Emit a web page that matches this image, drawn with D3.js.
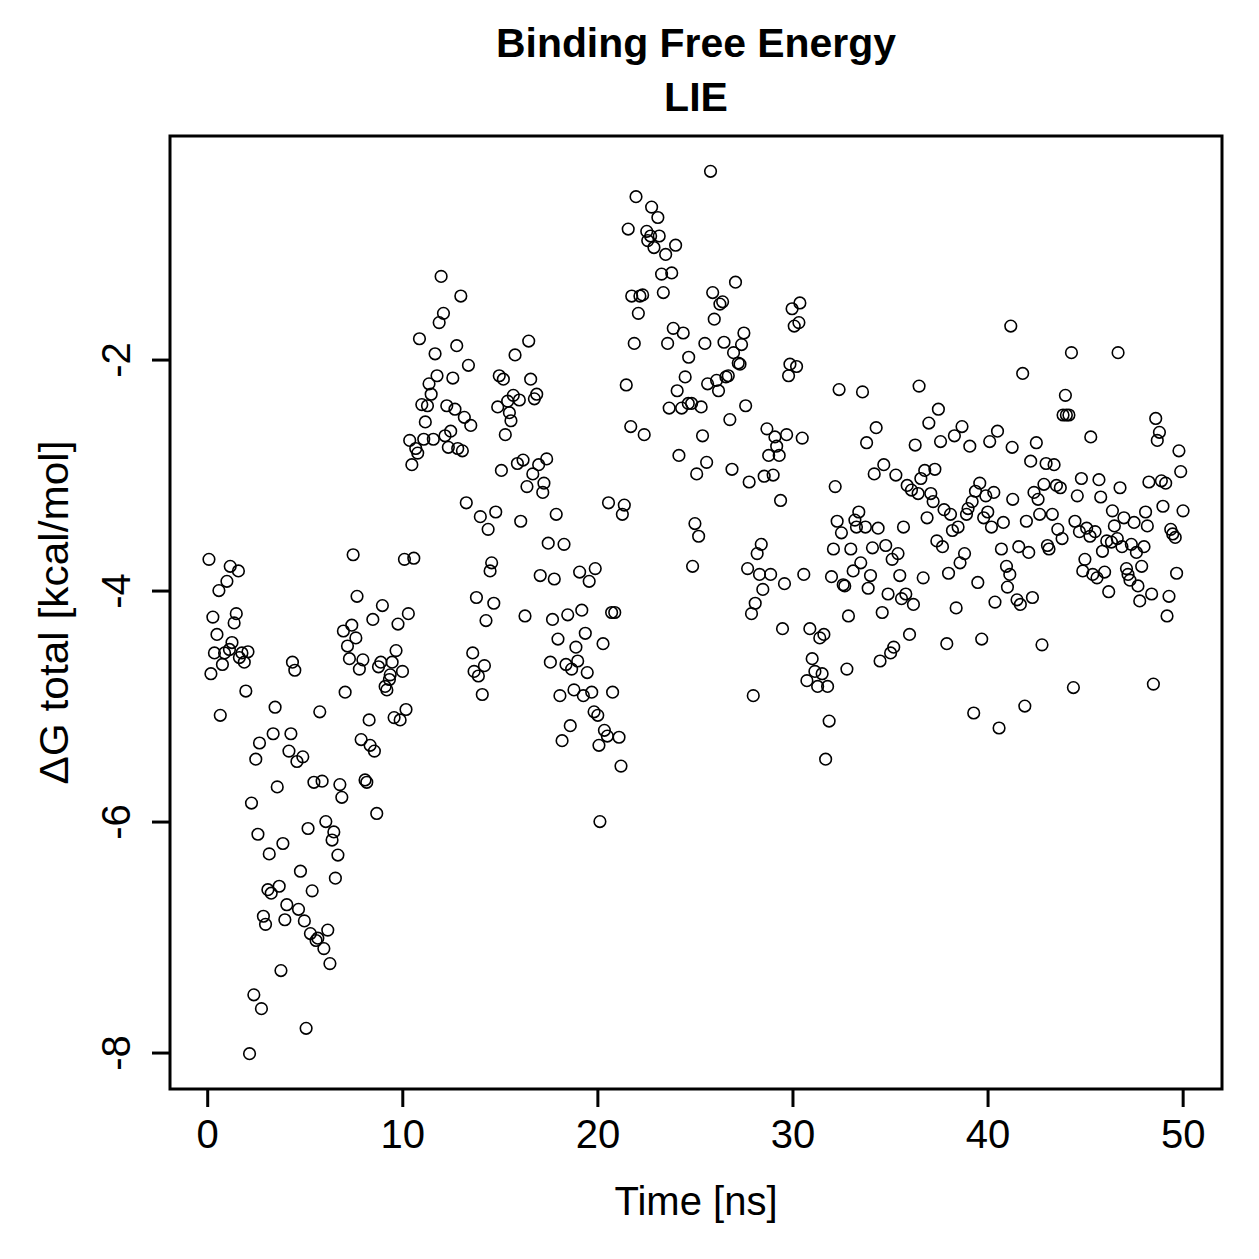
<!DOCTYPE html>
<html>
<head>
<meta charset="utf-8">
<script src="https://cdn.jsdelivr.net/npm/d3@7"></script>
<style>
  body { margin: 0; background: #fff; }
  text { font-family: "Liberation Sans", Arial, Helvetica, sans-serif; fill: #000; }
</style>
</head>
<body>
<div id="chart"></div>
<script>
// LIE binding free energy over the trajectory
var timeNs = [
  0.09, 0.19, 0.29, 0.37, 0.50, 0.60, 0.67, 0.78, 0.89, 1.01, 1.14, 1.18, 1.27, 1.38, 1.49, 1.60, 1.65, 1.78, 1.90, 1.98,
  2.09, 2.17, 2.27, 2.39, 2.49, 2.60, 2.68, 2.78, 2.88, 2.99, 3.11, 3.18, 3.28, 3.38, 3.48, 3.59, 3.69, 3.78, 3.88, 3.98,
  4.08, 4.19, 4.29, 4.37, 4.49, 4.60, 4.68, 4.78, 4.90, 4.98, 5.07, 5.17, 5.29, 5.38, 5.47, 5.58, 5.67, 5.77, 5.89, 5.98,
  6.08, 6.18, 6.29, 6.40, 6.49, 6.57, 6.70, 6.80, 6.90, 6.98, 7.07, 7.19, 7.29, 7.41, 7.48, 7.62, 7.68, 7.80, 7.89, 7.98,
  8.09, 8.18, 8.30, 8.35, 8.49, 8.57, 8.69, 8.78, 8.90, 8.98, 9.12, 9.21, 9.34, 9.38, 9.48, 9.58, 9.68, 9.78, 9.89, 10.01,
  10.11, 10.19, 10.31, 10.38, 10.49, 10.59, 10.69, 10.79, 10.88, 11.00, 11.10, 11.18, 11.29, 11.37, 11.48, 11.59, 11.68, 11.78, 11.89, 11.99,
  12.11, 12.19, 12.28, 12.36, 12.48, 12.59, 12.70, 12.79, 12.84, 13.00, 13.08, 13.18, 13.28, 13.39, 13.51, 13.61, 13.68, 13.80, 13.90, 14.00,
  14.10, 14.21, 14.29, 14.40, 14.50, 14.58, 14.69, 14.79, 14.89, 14.97, 15.08, 15.18, 15.28, 15.40, 15.49, 15.57, 15.69, 15.78, 15.90, 16.00,
  16.07, 16.19, 16.29, 16.39, 16.48, 16.58, 16.69, 16.77, 16.89, 16.99, 17.07, 17.20, 17.26, 17.40, 17.48, 17.59, 17.70, 17.79, 17.89, 17.98,
  18.08, 18.19, 18.29, 18.39, 18.48, 18.61, 18.68, 18.80, 18.90, 18.99, 19.09, 19.20, 19.28, 19.38, 19.48, 19.58, 19.71, 19.83, 19.89, 20.02,
  20.08, 20.13, 20.29, 20.36, 20.51, 20.57, 20.73, 20.78, 20.89, 21.11, 21.21, 21.28, 21.38, 21.48, 21.58, 21.71, 21.76, 21.89, 21.98, 22.10,
  22.18, 22.32, 22.40, 22.53, 22.58, 22.73, 22.78, 22.90, 23.10, 23.17, 23.29, 23.38, 23.50, 23.60, 23.68, 23.81, 23.89, 24.01, 24.09, 24.18,
  24.32, 24.40, 24.50, 24.66, 24.68, 24.83, 24.88, 25.00, 25.09, 25.19, 25.32, 25.39, 25.51, 25.60, 25.65, 25.80, 25.91, 25.99, 26.11, 26.21,
  26.28, 26.42, 26.49, 26.59, 26.71, 26.79, 26.90, 26.98, 27.08, 27.22, 27.31, 27.39, 27.51, 27.60, 27.70, 27.78, 27.90, 27.99, 28.09, 28.19,
  28.31, 28.40, 28.48, 28.55, 28.69, 28.78, 28.88, 29.01, 29.10, 29.19, 29.32, 29.39, 29.49, 29.59, 29.70, 29.80, 29.87, 29.98, 30.09, 30.21,
  30.33, 30.38, 30.50, 30.58, 30.74, 30.89, 31.01, 31.15, 31.29, 31.40, 31.52, 31.61, 31.70, 31.80, 31.88, 32.00, 32.10, 32.19, 32.29, 32.39,
  32.51, 32.60, 32.68, 32.79, 32.87, 32.99, 33.11, 33.20, 33.28, 33.40, 33.50, 33.59, 33.74, 33.80, 33.88, 34.00, 34.10, 34.19, 34.29, 34.39,
  34.49, 34.60, 34.68, 34.78, 34.90, 35.03, 35.11, 35.19, 35.30, 35.41, 35.50, 35.59, 35.69, 35.81, 35.88, 36.00, 36.10, 36.20, 36.29, 36.44,
  36.49, 36.58, 36.70, 36.78, 36.90, 36.99, 37.09, 37.21, 37.30, 37.40, 37.48, 37.59, 37.69, 37.77, 37.91, 38.00, 38.10, 38.20, 38.30, 38.39,
  38.49, 38.59, 38.69, 38.82, 38.92, 39.00, 39.09, 39.21, 39.29, 39.38, 39.50, 39.60, 39.70, 39.80, 39.91, 40.01, 40.11, 40.20, 40.32, 40.38,
  40.51, 40.59, 40.71, 40.81, 40.97, 41.02, 41.14, 41.19, 41.26, 41.29, 41.51, 41.60, 41.68, 41.80, 41.91, 41.99, 42.11, 42.21, 42.30, 42.38,
  42.50, 42.59, 42.67, 42.79, 42.89, 43.00, 43.07, 43.15, 43.32, 43.41, 43.53, 43.60, 43.73, 43.82, 43.87, 43.99, 44.04, 44.17, 44.30, 44.40,
  44.48, 44.60, 44.71, 44.81, 44.88, 44.99, 45.08, 45.25, 45.29, 45.39, 45.51, 45.61, 45.71, 45.80, 45.89, 46.00, 46.11, 46.21, 46.35, 46.40,
  46.50, 46.65, 46.69, 46.79, 46.89, 46.99, 47.12, 47.20, 47.30, 47.37, 47.51, 47.63, 47.71, 47.80, 47.90, 48.02, 48.10, 48.19, 48.27, 48.41,
  48.50, 48.62, 48.70, 48.81, 48.91, 48.99, 49.13, 49.20, 49.30, 49.39, 49.49, 49.62, 49.69, 49.81, 49.90, 50.02
];
var dGtotal = [
  -3.73, -4.72, -4.23, -4.54, -4.38, -4.00, -5.08, -4.64, -4.54, -3.92, -4.51, -3.79, -4.45, -4.28, -4.20, -3.83, -4.58, -4.54, -4.62, -4.87,
  -4.53, -8.01, -5.84, -7.50, -5.46, -6.11, -5.32, -7.62, -6.82, -6.89, -6.59, -6.28, -6.62, -5.24, -5.01, -5.70, -6.56, -7.29, -6.19, -6.85,
  -6.72, -5.39, -5.24, -4.62, -4.69, -5.48, -6.76, -6.43, -5.44, -6.86, -7.79, -6.06, -6.97, -6.60, -5.66, -7.03, -7.01, -5.05, -5.65, -7.10,
  -6.00, -6.94, -7.23, -6.16, -6.09, -6.49, -6.29, -5.68, -5.79, -4.35, -4.88, -4.48, -4.59, -4.30, -3.69, -4.41, -4.05, -4.68, -5.29, -4.60,
  -5.64, -5.66, -5.12, -5.34, -4.25, -5.39, -5.93, -4.66, -4.62, -4.13, -4.83, -4.86, -4.77, -4.73, -4.62, -5.10, -4.52, -4.29, -5.12, -4.70,
  -3.73, -5.03, -4.20, -2.70, -2.91, -3.72, -2.77, -2.81, -1.82, -2.39, -2.69, -2.54, -2.40, -2.21, -2.30, -2.69, -1.95, -2.14, -1.68, -1.28,
  -1.60, -2.66, -2.40, -2.76, -2.62, -2.16, -2.43, -1.88, -2.77, -1.45, -2.79, -2.50, -3.24, -2.05, -2.57, -4.54, -4.70, -4.06, -4.74, -3.36,
  -4.90, -4.65, -4.26, -3.47, -3.83, -3.76, -4.11, -3.32, -2.41, -2.14, -2.96, -2.17, -2.65, -2.36, -2.46, -2.53, -2.31, -1.96, -2.90, -2.35,
  -3.40, -2.87, -4.22, -3.10, -1.84, -2.17, -2.99, -2.34, -2.30, -2.91, -3.87, -3.15, -3.07, -2.86, -3.59, -4.62, -4.25, -3.90, -3.34, -4.42,
  -4.91, -5.30, -3.60, -4.64, -4.21, -5.17, -4.68, -4.86, -4.49, -4.61, -3.84, -4.17, -4.91, -4.37, -4.71, -3.92, -4.88, -5.05, -3.81, -5.08,
  -5.34, -6.00, -4.46, -5.21, -5.26, -3.24, -4.19, -4.88, -4.19, -5.27, -5.52, -3.34, -3.26, -2.22, -0.87, -2.58, -1.45, -1.86, -0.59, -1.60,
  -1.45, -1.44, -2.65, -0.89, -0.97, -0.93, -0.68, -1.03, -0.77, -0.93, -1.26, -1.42, -1.09, -1.86, -2.42, -1.25, -1.73, -1.01, -2.27, -2.83,
  -2.42, -1.77, -2.15, -2.38, -1.98, -2.38, -3.79, -3.42, -2.99, -3.53, -2.41, -2.66, -1.86, -2.89, -2.21, -0.37, -1.42, -1.65, -2.18, -2.27,
  -1.52, -1.50, -1.85, -2.15, -2.14, -2.52, -2.95, -1.94, -1.33, -2.03, -2.04, -1.87, -1.77, -2.40, -3.81, -3.06, -4.20, -4.91, -4.11, -3.68,
  -3.86, -3.60, -3.99, -3.01, -2.60, -2.83, -3.86, -3.00, -2.67, -2.75, -2.83, -3.22, -4.33, -3.94, -2.65, -2.14, -2.04, -1.56, -1.71, -2.06,
  -1.68, -1.51, -2.68, -3.86, -4.78, -4.33, -4.59, -4.70, -4.83, -4.41, -4.72, -4.38, -5.46, -4.83, -5.13, -3.88, -3.64, -3.10, -3.40, -2.26,
  -3.50, -3.95, -3.96, -4.68, -4.22, -3.64, -3.83, -3.39, -3.45, -3.32, -3.76, -2.28, -3.45, -2.72, -3.98, -3.87, -3.63, -2.99, -2.59, -3.46,
  -4.61, -4.19, -2.91, -3.61, -4.03, -4.54, -3.73, -4.49, -3.00, -3.68, -3.87, -4.07, -3.45, -4.03, -3.09, -4.38, -3.13, -4.12, -2.74, -3.16,
  -2.23, -3.03, -3.89, -2.96, -3.37, -2.55, -3.16, -3.23, -2.95, -3.57, -2.43, -2.71, -3.62, -3.30, -4.46, -3.85, -3.34, -3.48, -2.66, -4.15,
  -3.45, -3.76, -2.58, -3.68, -3.34, -3.29, -2.75, -3.23, -5.06, -3.14, -3.93, -3.07, -4.42, -3.37, -3.18, -3.32, -2.71, -3.45, -3.15, -4.10,
  -2.62, -5.19, -3.64, -3.41, -3.79, -3.97, -3.86, -1.71, -2.76, -3.21, -4.08, -3.62, -4.12, -2.12, -5.00, -3.40, -3.67, -2.88, -4.06, -3.15,
  -2.72, -3.21, -3.34, -4.47, -3.08, -2.90, -3.61, -3.64, -3.34, -2.91, -3.09, -3.47, -3.11, -3.55, -2.48, -2.31, -2.48, -2.48, -1.94, -4.84,
  -3.40, -3.18, -3.49, -3.03, -3.83, -3.73, -3.46, -3.53, -2.67, -3.86, -3.49, -3.89, -3.04, -3.19, -3.66, -3.84, -3.57, -4.01, -3.58, -3.31,
  -3.44, -3.55, -1.94, -3.11, -3.62, -3.37, -3.81, -3.86, -3.91, -3.60, -3.41, -3.67, -3.96, -4.09, -3.79, -3.62, -3.32, -3.44, -3.06, -4.03,
  -4.81, -2.51, -2.70, -2.63, -3.05, -3.27, -3.07, -4.22, -4.05, -3.47, -3.51, -3.54, -3.85, -2.79, -2.97, -3.31
];
var xTicks = [0, 10, 20, 30, 40, 50];
var yTicks = [-8, -6, -4, -2];

var W = 1259, H = 1259;
var margin = { left: 170, right: 37, top: 136, bottom: 170 };
var fontSize = 40;

var points = timeNs.map(function (t, i) { return { t: t, g: dGtotal[i] }; });

var svg = d3.select("#chart").append("svg")
  .attr("width", W)
  .attr("height", H)
  .style("background", "#fff");

// R pads the data range by 4% on each side
var xr = d3.extent(timeNs), yr = d3.extent(dGtotal);
var xPad = (xr[1] - xr[0]) * 0.04, yPad = (yr[1] - yr[0]) * 0.04;

var x = d3.scaleLinear()
  .domain([xr[0] - xPad, xr[1] + xPad])
  .range([margin.left, W - margin.right]);
var y = d3.scaleLinear()
  .domain([yr[0] - yPad, yr[1] + yPad])
  .range([H - margin.bottom, margin.top]);

// points
svg.append("g")
  .selectAll("circle")
  .data(points)
  .enter().append("circle")
  .attr("cx", function (d) { return x(d.t); })
  .attr("cy", function (d) { return y(d.g); })
  .attr("r", 5.8)
  .attr("fill", "none")
  .attr("stroke", "#000")
  .attr("stroke-width", 1.6);

// axes
var xAxis = svg.append("g")
  .attr("transform", "translate(0," + (H - margin.bottom) + ")")
  .call(d3.axisBottom(x).tickValues(xTicks).tickSize(18).tickPadding(13).tickFormat(d3.format("d")));
var yAxis = svg.append("g")
  .attr("transform", "translate(" + margin.left + ",0)")
  .call(d3.axisLeft(y).tickValues(yTicks).tickSize(18).tickFormat(function (d) { return String(d); }));

[xAxis, yAxis].forEach(function (a) {
  a.select(".domain").remove();
  a.selectAll(".tick line").attr("stroke", "#000").attr("stroke-width", 3);
  a.selectAll(".tick text")
    .attr("fill", "#000")
    .style("font-size", fontSize + "px")
    .style("font-family", '"Liberation Sans", Arial, Helvetica, sans-serif');
});

// y tick labels are rotated like R's las=0
yAxis.selectAll(".tick text")
  .attr("transform", "rotate(-90)")
  .attr("x", 0)
  .attr("y", -40)
  .attr("dy", 0)
  .attr("text-anchor", "middle");

// box
svg.append("rect")
  .attr("x", margin.left)
  .attr("y", margin.top)
  .attr("width", W - margin.left - margin.right)
  .attr("height", H - margin.top - margin.bottom)
  .attr("fill", "none")
  .attr("stroke", "#000")
  .attr("stroke-width", 3);

var cx = (margin.left + W - margin.right) / 2;
var cy = (margin.top + H - margin.bottom) / 2;

// title
svg.append("text")
  .attr("x", cx).attr("y", 57)
  .attr("text-anchor", "middle")
  .attr("textLength", 400)
  .attr("lengthAdjust", "spacingAndGlyphs")
  .style("font-size", "41px")
  .style("font-weight", "bold")
  .text("Binding Free Energy");
svg.append("text")
  .attr("x", cx).attr("y", 111)
  .attr("text-anchor", "middle")
  .style("font-size", "41px")
  .style("font-weight", "bold")
  .text("LIE");

// axis titles
svg.append("text")
  .attr("x", cx).attr("y", 1215)
  .attr("text-anchor", "middle")
  .style("font-size", fontSize + "px")
  .text("Time [ns]");
svg.append("text")
  .attr("transform", "translate(68," + cy + ") rotate(-90)")
  .attr("text-anchor", "middle")
  .attr("textLength", 344)
  .attr("lengthAdjust", "spacingAndGlyphs")
  .style("font-size", "41px")
  .text("\u0394G total [kcal/mol]");
</script>
</body>
</html>
